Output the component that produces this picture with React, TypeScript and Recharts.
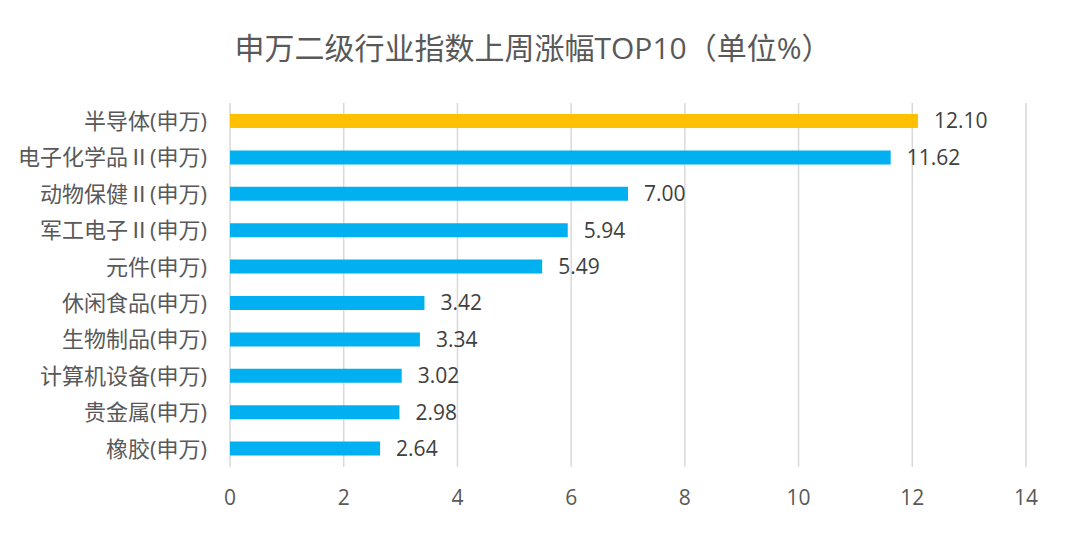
import React from "react";
import { BarChart, Bar, XAxis, YAxis, CartesianGrid, Cell, LabelList } from "recharts";

const categories = [
  "半导体(申万)",
  "电子化学品Ⅱ(申万)",
  "动物保健Ⅱ(申万)",
  "军工电子Ⅱ(申万)",
  "元件(申万)",
  "休闲食品(申万)",
  "生物制品(申万)",
  "计算机设备(申万)",
  "贵金属(申万)",
  "橡胶(申万)",
];
const values = [12.1, 11.62, 7.0, 5.94, 5.49, 3.42, 3.34, 3.02, 2.98, 2.64];
const xTicks = [0, 2, 4, 6, 8, 10, 12, 14];
const title = "申万二级行业指数上周涨幅TOP10（单位%）";

const data = categories.map((name, i) => ({ name, value: values[i] }));

const FONT = "'Open Sans', 'Noto Sans CJK SC', sans-serif";
const CJK = "'Noto Sans CJK SC', sans-serif";

const CategoryTick = (props: any) => {
  const { x, y, payload } = props;
  const text: string = String(payload.value);
  const parts = text.split("Ⅱ");
  return (
    <text x={x} y={y} dy="0.355em" textAnchor="end" fill="#595959" fontSize={22} fontFamily={FONT}>
      {parts.map((p, i) => (
        <React.Fragment key={i}>
          {i > 0 && <tspan fontFamily={CJK}>Ⅱ</tspan>}
          <tspan>{p}</tspan>
        </React.Fragment>
      ))}
    </text>
  );
};

export default function App() {
  return (
    <div style={{ position: "absolute", left: 0, top: 0, width: 1080, height: 538, background: "#fff", fontFamily: FONT }}>
      <div
        style={{
          position: "absolute",
          left: 0,
          top: 27,
          width: 1066,
          textAlign: "center",
          fontSize: 30,
          color: "#595959",
          lineHeight: "42px",
          whiteSpace: "nowrap",
        }}
      >
        {title}
      </div>
      <BarChart
        width={1080}
        height={538}
        data={data}
        layout="vertical"
        margin={{ top: 103, right: 54, bottom: 41, left: 8 }}
        barCategoryGap={0}
      >
        <CartesianGrid horizontal={false} vertical stroke="#d9d9d9" strokeWidth={1.5} />
        <XAxis
          type="number"
          domain={[0, 14]}
          ticks={xTicks}
          axisLine={false}
          tickLine={false}
          tickSize={0}
          tickMargin={23}
          height={30}
          tick={{ fill: "#595959", fontSize: 21, fontFamily: FONT }}
          interval={0}
        />
        <YAxis
          type="category"
          dataKey="name"
          width={222}
          axisLine={false}
          tickLine={false}
          tickSize={0}
          tickMargin={23}
          interval={0}
          tick={<CategoryTick />}
        />
        <Bar dataKey="value" barSize={14} isAnimationActive={false}>
          {data.map((d, i) => (
            <Cell key={d.name} fill={i === 0 ? "#FFC000" : "#00B0F0"} />
          ))}
          <LabelList
            dataKey="value"
            position="right"
            offset={16}
            formatter={(v: any) => Number(v).toFixed(2)}
            style={{ fill: "#404040", fontSize: 21, fontFamily: FONT }}
          />
        </Bar>
      </BarChart>
    </div>
  );
}
